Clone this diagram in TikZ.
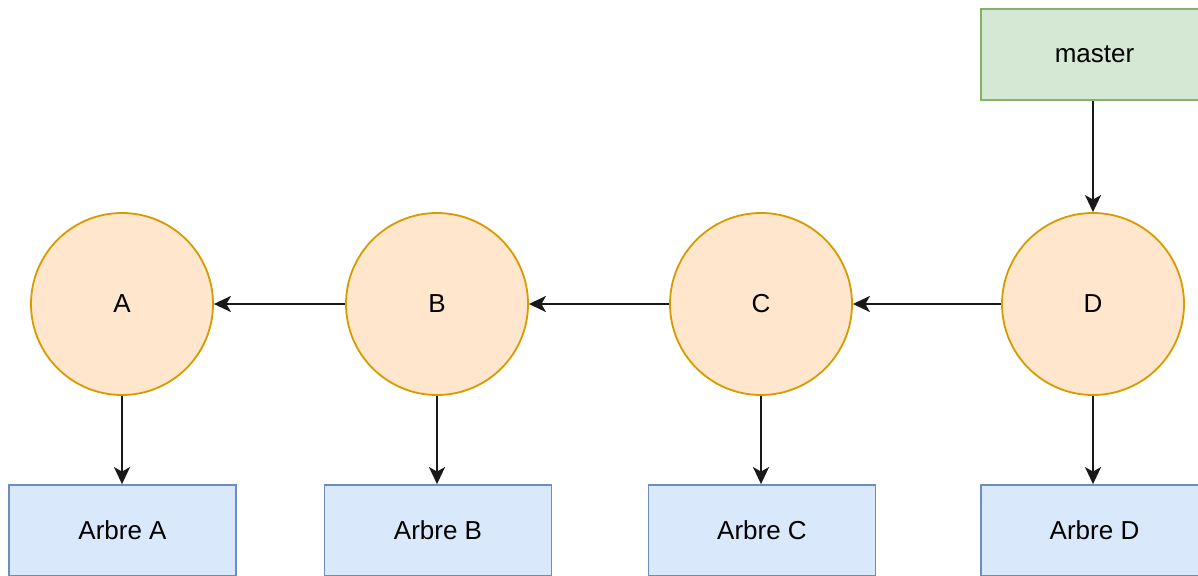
\documentclass[tikz,border=0pt]{standalone}
\usepackage{fontspec}
\setmainfont{Liberation Sans}
\usetikzlibrary{arrows.meta}
\definecolor{commitfill}{HTML}{FFE6CC}
\definecolor{commitline}{HTML}{D79B00}
\definecolor{treefill}{HTML}{DAE8FC}
\definecolor{treeline}{HTML}{6C8EBF}
\definecolor{reffill}{HTML}{D5E8D4}
\definecolor{refline}{HTML}{82B366}
\tikzset{
  commit/.style={circle, draw=commitline, fill=commitfill, line width=1.8pt,
    minimum size=182pt, inner sep=0pt, font=\fontsize{26}{30}\selectfont},
  treebox/.style={rectangle, draw=treeline, fill=treefill, line width=1.8pt,
    minimum width=227pt, minimum height=91pt, inner sep=0pt, font=\fontsize{26}{30}\selectfont},
  refbox/.style={rectangle, draw=refline, fill=reffill, line width=1.8pt,
    minimum width=227pt, minimum height=91pt, inner sep=0pt, font=\fontsize{26}{30}\selectfont},
  link/.style={draw=black!90, line width=2.2pt,
    -{Stealth[length=17pt, width=16pt, inset=4.5pt]}}
}
\begin{document}
\begin{tikzpicture}[x=1pt, y=-1pt]
  \useasboundingbox (0,0) rectangle (1198,575);
  \clip (0,0) rectangle (1198,575);
  \fill[white] (0,0) rectangle (1198,575);

  % commits
  \node[commit] (A) at (122,304) {A};
  \node[commit] (B) at (437,304) {B};
  \node[commit] (C) at (761,304) {C};
  \node[commit] (D) at (1093,304) {D};

  % trees
  \node[treebox] (tA) at (122.5,530.5) {Arbre A};
  \node[treebox] (tB) at (438,530.5) {Arbre B};
  \node[treebox] (tC) at (762,530.5) {Arbre C};
  \node[treebox] (tD) at (1094.5,530.5) {Arbre D};

  % branch reference
  \node[refbox] (master) at (1094.5,54.5) {master};

  % parent links
  \draw[link] (D) -- (C);
  \draw[link] (C) -- (B);
  \draw[link] (B) -- (A);

  % commit to tree links
  \draw[link] (A.south) -- (A.south |- tA.north);
  \draw[link] (B.south) -- (B.south |- tB.north);
  \draw[link] (C.south) -- (C.south |- tC.north);
  \draw[link] (D.south) -- (D.south |- tD.north);

  % reference link
  \draw[link] (master.south -| D.north) -- (D.north);
\end{tikzpicture}
\end{document}
